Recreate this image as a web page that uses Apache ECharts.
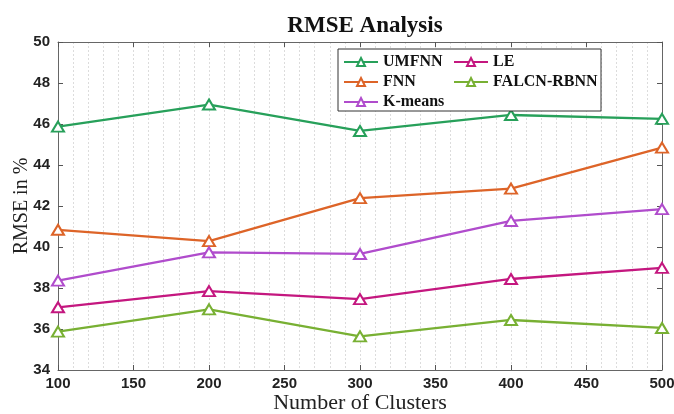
<!DOCTYPE html>
<html>
<head>
<meta charset="utf-8">
<script src="https://cdn.jsdelivr.net/npm/echarts@6/dist/echarts.min.js"></script>
<style>
  html, body { margin: 0; padding: 0; background: #fff; }
  #chart { width: 674px; height: 414px; }
</style>
</head>
<body>
<div id="chart"></div>
<script>
// Number of clusters (x) and RMSE (%) per method
const clusters = [100, 200, 300, 400, 500];
const umfnn    = [45.87, 46.95, 45.66, 46.44, 46.25];
const fnn      = [40.84, 40.29, 42.38, 42.85, 44.85];
const kmeans   = [38.36, 39.74, 39.66, 41.27, 41.85];
const le       = [37.06, 37.85, 37.46, 38.44, 38.98];
const falcn    = [35.87, 36.96, 35.64, 36.44, 36.05];

const seriesNames  = ['UMFNN', 'FNN', 'K-means', 'LE', 'FALCN-RBNN'];
const seriesValues = [umfnn, fnn, kmeans, le, falcn];
const seriesColors = ['#27a05a', '#dd6428', '#b04ccc', '#c4177f', '#78b033'];

const xTicks = [100, 150, 200, 250, 300, 350, 400, 450, 500];
const yTicks = [34, 36, 38, 40, 42, 44, 46, 48, 50];

const serif = '"Liberation Serif", "Times New Roman", serif';
const sans  = '"Liberation Sans", Arial, sans-serif';

const chart = echarts.init(document.getElementById('chart'), null, { renderer: 'canvas' });

const grid = { left: 58, right: 12, top: 42, bottom: 44, containLabel: false, outerBoundsMode: 'none' };

const tickStyle = { show: true, inside: true, length: 5, lineStyle: { color: '#555', width: 1 } };
const axisLine = { show: true, lineStyle: { color: '#666', width: 1 } };

const series = seriesNames.map((name, i) => ({
  name: name,
  type: 'line',
  data: clusters.map((c, j) => [c, seriesValues[i][j]]),
  symbol: 'emptyTriangle',
  symbolSize: [12, 10],
  lineStyle: { color: seriesColors[i], width: 2.3 },
  itemStyle: { color: seriesColors[i], borderColor: seriesColors[i], borderWidth: 1.6 },
  emphasis: { disabled: true },
  animation: false,
  z: 3
}));

const legendCommon = {
  orient: 'vertical',
  itemWidth: 34,
  itemHeight: 10,
  itemGap: 4,
  padding: 0,
  z: 20,
  textStyle: { fontFamily: serif, fontWeight: 'bold', fontSize: 16, color: '#111' },
  selectedMode: false
};

chart.setOption({
  animation: false,
  backgroundColor: '#fff',
  title: {
    text: 'RMSE Analysis',
    left: 360,
    textAlign: 'center',
    top: 10,
    textStyle: { fontFamily: serif, fontWeight: 'bold', fontSize: 23, color: '#111' }
  },
  grid: grid,
  legend: [
    Object.assign({}, legendCommon, { left: 343, top: 54, data: ['UMFNN', 'FNN', 'K-means'] }),
    Object.assign({}, legendCommon, { left: 453, top: 54, data: ['LE', 'FALCN-RBNN'] })
  ],
  graphic: [{
    type: 'rect',
    shape: { x: 338, y: 49, width: 263, height: 62 },
    style: { fill: '#fff', stroke: '#333', lineWidth: 1 },
    z: 5
  }],
  xAxis: [{
    type: 'value',
    min: 100, max: 500, interval: 50,
    position: 'bottom',
    name: 'Number of Clusters',
    nameLocation: 'middle',
    nameGap: 22,
    nameMoveOverlap: false,
    nameTextStyle: { fontFamily: serif, fontSize: 22, color: '#222' },
    axisLine: axisLine,
    axisTick: tickStyle,
    minorTick: { show: false, splitNumber: 5 },
    axisLabel: {
      margin: 6,
      fontFamily: sans, fontWeight: 'bold', fontSize: 15, color: '#222',
      formatter: v => xTicks.includes(v) ? String(v) : ''
    },
    splitLine: { show: true, lineStyle: { color: '#dcdcdc', type: [2, 2], width: 1 } },
    minorSplitLine: { show: true, lineStyle: { color: '#dcdcdc', type: [2, 2], width: 1 } }
  }, {
    type: 'value',
    min: 100, max: 500, interval: 50,
    position: 'top',
    axisLine: axisLine,
    axisTick: tickStyle,
    axisLabel: { show: false },
    splitLine: { show: false }
  }],
  yAxis: [{
    type: 'value',
    min: 34, max: 50, interval: 2,
    position: 'left',
    name: 'RMSE in %',
    nameLocation: 'middle',
    nameGap: 26,
    nameMoveOverlap: false,
    nameTextStyle: { fontFamily: serif, fontSize: 20, color: '#222' },
    axisLine: axisLine,
    axisTick: tickStyle,
    axisLabel: {
      margin: 8,
      fontFamily: sans, fontWeight: 'bold', fontSize: 15, color: '#222',
      formatter: v => yTicks.includes(v) ? String(v) : ''
    },
    splitLine: { show: false }
  }, {
    type: 'value',
    min: 34, max: 50, interval: 2,
    position: 'right',
    axisLine: axisLine,
    axisTick: tickStyle,
    axisLabel: { show: false },
    splitLine: { show: false }
  }],
  series: series
});
</script>
</body>
</html>
